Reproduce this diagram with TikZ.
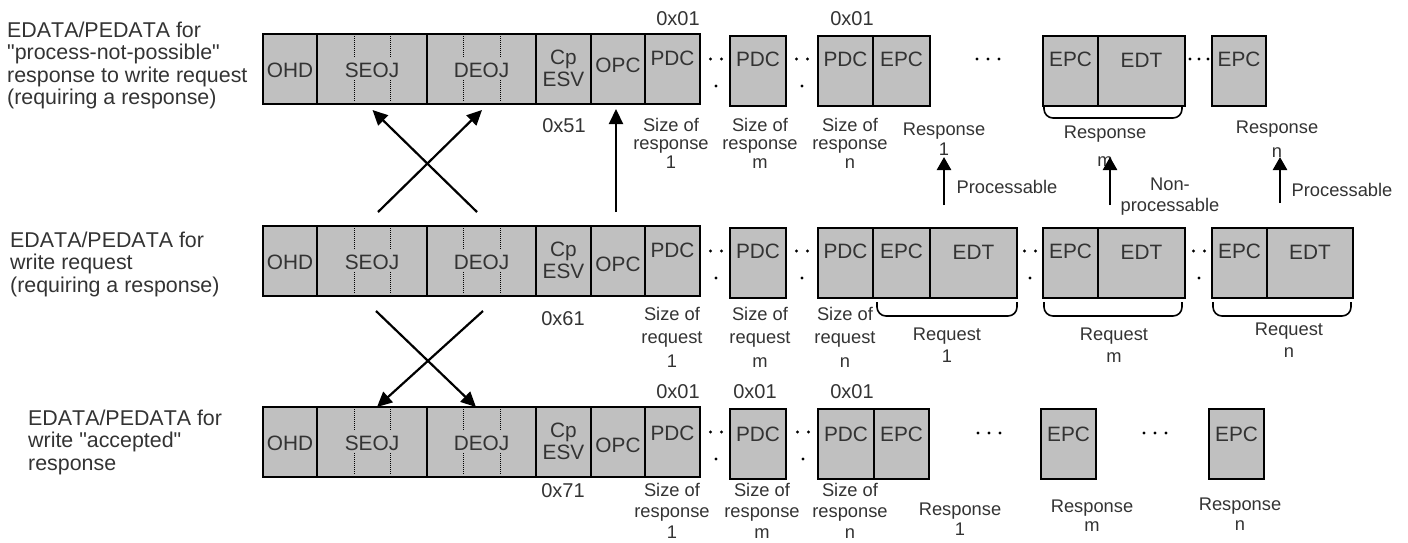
\documentclass[tikz,border=0pt]{standalone}
\usepackage{fontspec}
\setmainfont{Liberation Sans}[Ligatures=TeXOff,Kerning=Off]
\usetikzlibrary{arrows.meta}
\definecolor{cellgray}{HTML}{C0C0C0}
\definecolor{ink}{HTML}{333333}
\newcommand\topstrut{\rule{0pt}{16pt}}
\newcommand\mkcell[6]{%
  \node[cell,minimum width={#3-#2},minimum height=70,anchor=north west] (#1) at (#2,#4) {};
  \node[btxt] (#1-t) at ({(#2+#3)/2},{#4+#6-16}) {\topstrut #5};}
\newcommand\grouprow[4]{%
  \mkcell{#1-ohd}{263}{317}{#2}{OHD}{43.5}
  \mkcell{#1-seoj}{317}{427}{#2}{SEOJ}{43.5}
  \mkcell{#1-deoj}{427}{536}{#2}{DEOJ}{43.5}
  \mkcell{#1-esv}{536}{591}{#2}{Cp\\ESV}{30}
  \mkcell{#1-opc}{591}{645}{#2}{OPC}{#3}
  \mkcell{#1-pdc1}{645}{700}{#2}{PDC}{#4}
  \foreach \xx in {354,390,463,500}{\draw[tick] (\xx,{#2+2}) -- (\xx,{#2+24}) (\xx,{#2+46}) -- (\xx,{#2+68});}}
\newcommand\twodots[2]{\fill[dotc] ({#1-5.5},{#2+25}) circle[radius=1.6pt] ({#1+5.5},{#2+25}) circle[radius=1.6pt] (#1,{#2+52}) circle[radius=1.6pt];}
\newcommand\threedots[2]{\fill[dotc] ({#1-11},#2) circle[radius=1.6pt] (#1,#2) circle[radius=1.6pt] ({#1+11},#2) circle[radius=1.6pt];}
\begin{document}
\begin{tikzpicture}[x=1pt,y=-1pt,
  cell/.style={draw=black,line width=1.6pt,fill=cellgray,inner sep=0pt,outer sep=0pt,rectangle},
  btxt/.style={anchor=north,inner sep=0pt,font=\fontsize{20.8}{22}\selectfont,text=ink,align=center},
  lbl/.style={anchor=north,inner sep=0pt,font=\fontsize{18.3}{#1}\selectfont,text=ink,align=center},
  hex/.style={anchor=base,inner sep=0pt,font=\fontsize{20}{22}\selectfont,text=ink},
  side/.style={anchor=north west,inner sep=0pt,font=\fontsize{21.4}{22.5}\selectfont,text=ink,align=left},
  xarr/.style={line width=2.2pt,-{Triangle[length=15pt,width=14pt]}},
  parr/.style={line width=2.6pt,-{Triangle[length=13pt,width=14pt]}},
  brc/.style={line width=1.6pt,rounded corners=9pt},
  tick/.style={line width=0.7pt,dash pattern=on 1pt off 1pt},
  dotc/.style={fill=black}]
\useasboundingbox (0,0) rectangle (1408,542);

% ---------- side labels
\node[side] (lab-top) at (7,21) {\topstrut EDATA/PEDATA for\\"process-not-possible"\\response to write request\\(requiring a response)};
\node[side] (lab-mid) at (10,231) {\topstrut EDATA/PEDATA for\\write request\\(requiring a response)};
\node[side] (lab-bot) at (28,409) {\topstrut EDATA/PEDATA for\\write "accepted"\\response};

% ---------- top row
\grouprow{t}{34}{38}{31}
\mkcell{t-pdcm}{730}{786}{36}{PDC}{30}
\mkcell{t-pdcn}{818}{873}{36}{PDC}{30}
\mkcell{t-epc1}{873}{930}{36}{EPC}{30}
\mkcell{t-epcm}{1043}{1098}{36}{EPC}{30}
\mkcell{t-edtm}{1098}{1185}{36}{EDT}{31}
\mkcell{t-epcn}{1212}{1266}{36}{EPC}{30}
\twodots{716}{34}
\twodots{802}{34}
\threedots{988}{59}
\fill[dotc] (1190,59) circle[radius=1.6pt] (1199,59) circle[radius=1.6pt] (1208,59) circle[radius=1.6pt];
\draw[brc] ([xshift=1pt]t-epcm.south west) -- ++(0,12) -| ([xshift=-3pt]t-edtm.south east);

% ---------- middle row
\grouprow{m}{226}{45}{31}
\mkcell{m-pdcm}{730}{786}{228}{PDC}{30}
\mkcell{m-pdcn}{818}{873}{228}{PDC}{30}
\mkcell{m-epc1}{873}{930}{228}{EPC}{30}
\mkcell{m-edt1}{930}{1017}{228}{EDT}{31}
\mkcell{m-epcm}{1043}{1098}{228}{EPC}{30}
\mkcell{m-edtm}{1098}{1185}{228}{EDT}{31}
\mkcell{m-epcn}{1212}{1267}{228}{EPC}{30}
\mkcell{m-edtn}{1267}{1353}{228}{EDT}{31}
\twodots{716}{226}
\twodots{802}{226}
\twodots{1030}{226}
\twodots{1199}{226}
\draw[brc] ([xshift=4pt,yshift=-4pt]m-epc1.south west) -- ++(0,14) -| ([yshift=-4pt]m-edt1.south east);
\draw[brc] ([xshift=1pt,yshift=-4pt]m-epcm.south west) -- ++(0,14) -| ([xshift=-3pt,yshift=-4pt]m-edtm.south east);
\draw[brc] ([xshift=1pt,yshift=-4pt]m-epcn.south west) -- ++(0,14) -| ([xshift=-2pt,yshift=-4pt]m-edtn.south east);

% ---------- bottom row
\grouprow{b}{407}{45}{33}
\mkcell{b-pdcm}{730}{786}{409}{PDC}{32}
\mkcell{b-pdcn}{818}{874}{409}{PDC}{32}
\mkcell{b-epc1}{874}{929}{409}{EPC}{32}
\mkcell{b-epcm}{1041}{1096}{409}{EPC}{32}
\mkcell{b-epcn}{1209}{1264}{409}{EPC}{32}
\twodots{716}{407}
\twodots{803}{407}
\threedots{989}{433}
\threedots{1155}{433}

% ---------- hex labels
\node[hex] (h-t1) at (678,25) {0x01};
\node[hex] (h-t2) at (852,25) {0x01};
\node[hex] (h-t3) at (564,132) {0x51};
\node[hex] (h-m1) at (563,325) {0x61};
\node[hex] (h-b1) at (678,398) {0x01};
\node[hex] (h-b2) at (755,398) {0x01};
\node[hex] (h-b3) at (852,398) {0x01};
\node[hex] (h-b4) at (563,497) {0x71};

% ---------- size labels
\node[lbl=18.5] (s-t1) at (671,115) {\topstrut Size of\\response\\1};
\node[lbl=18.5] (s-t2) at (760,115) {\topstrut Size of\\response\\m};
\node[lbl=18.5] (s-t3) at (850,115) {\topstrut Size of\\response\\n};
\node[lbl=23.5] (s-m1) at (672,304) {\topstrut Size of\\request\\1};
\node[lbl=23.5] (s-m2) at (760,304) {\topstrut Size of\\request\\m};
\node[lbl=23.5] (s-m3) at (845,304) {\topstrut Size of\\request\\n};
\node[lbl=21] (s-b1) at (672,480) {\topstrut Size of\\response\\1};
\node[lbl=21] (s-b2) at (762,480) {\topstrut Size of\\response\\m};
\node[lbl=21] (s-b3) at (850,480) {\topstrut Size of\\response\\n};

% ---------- response / request labels
\node[lbl=20] (r-t1) at (944,119) {\topstrut Response\\1};
\node[lbl=28] (r-tm) at (1105,122) {\topstrut Response\\m};
\node[lbl=24] (r-tn) at (1277,117) {\topstrut Response\\n};
\node[lbl=22] (q-m1) at (947,324) {\topstrut Request\\1};
\node[lbl=22] (q-mm) at (1114,324) {\topstrut Request\\m};
\node[lbl=22] (q-mn) at (1289,319) {\topstrut Request\\n};
\node[lbl=20] (r-b1) at (960,499) {\topstrut Response\\1};
\node[lbl=19.5] (r-bm) at (1092,496) {\topstrut Response\\m};
\node[lbl=20] (r-bn) at (1240,494) {\topstrut Response\\n};

% ---------- processable labels
\node[lbl=21,anchor=base] (p-1) at (1007,193) {Processable};
\node[lbl=21] (p-2) at (1170,174) {\topstrut Non-\\processable};
\node[lbl=21,anchor=base] (p-3) at (1342,196) {Processable};

% ---------- arrows
\coordinate (xa1) at (378,212);
\coordinate (xa2) at (477,212);
\coordinate (va) at (616,212);
\draw[xarr] (xa1) -- ([xshift=0.5pt,yshift=-6pt]t-deoj.south);
\draw[xarr] (xa2) -- ([xshift=0.5pt,yshift=-6pt]t-seoj.south);
\draw[xarr] (va) -- ([xshift=-2pt,yshift=-5pt]t-opc.south);
\coordinate (xb1) at (376,311);
\coordinate (xb2) at (483,311);
\draw[xarr] (xb1) -- ([xshift=-5.5pt]b-deoj.north);
\draw[xarr] (xb2) -- ([xshift=5pt]b-seoj.north);
\coordinate (pa1) at (944,205);
\coordinate (pe1) at (944,157);
\coordinate (pa2) at (1110,205);
\coordinate (pe2) at (1110,157);
\coordinate (pa3) at (1280,203);
\coordinate (pe3) at (1280,157);
\draw[parr] (pa1) -- (pe1);
\draw[parr] (pa2) -- (pe2);
\draw[parr] (pa3) -- (pe3);
\end{tikzpicture}
\end{document}
